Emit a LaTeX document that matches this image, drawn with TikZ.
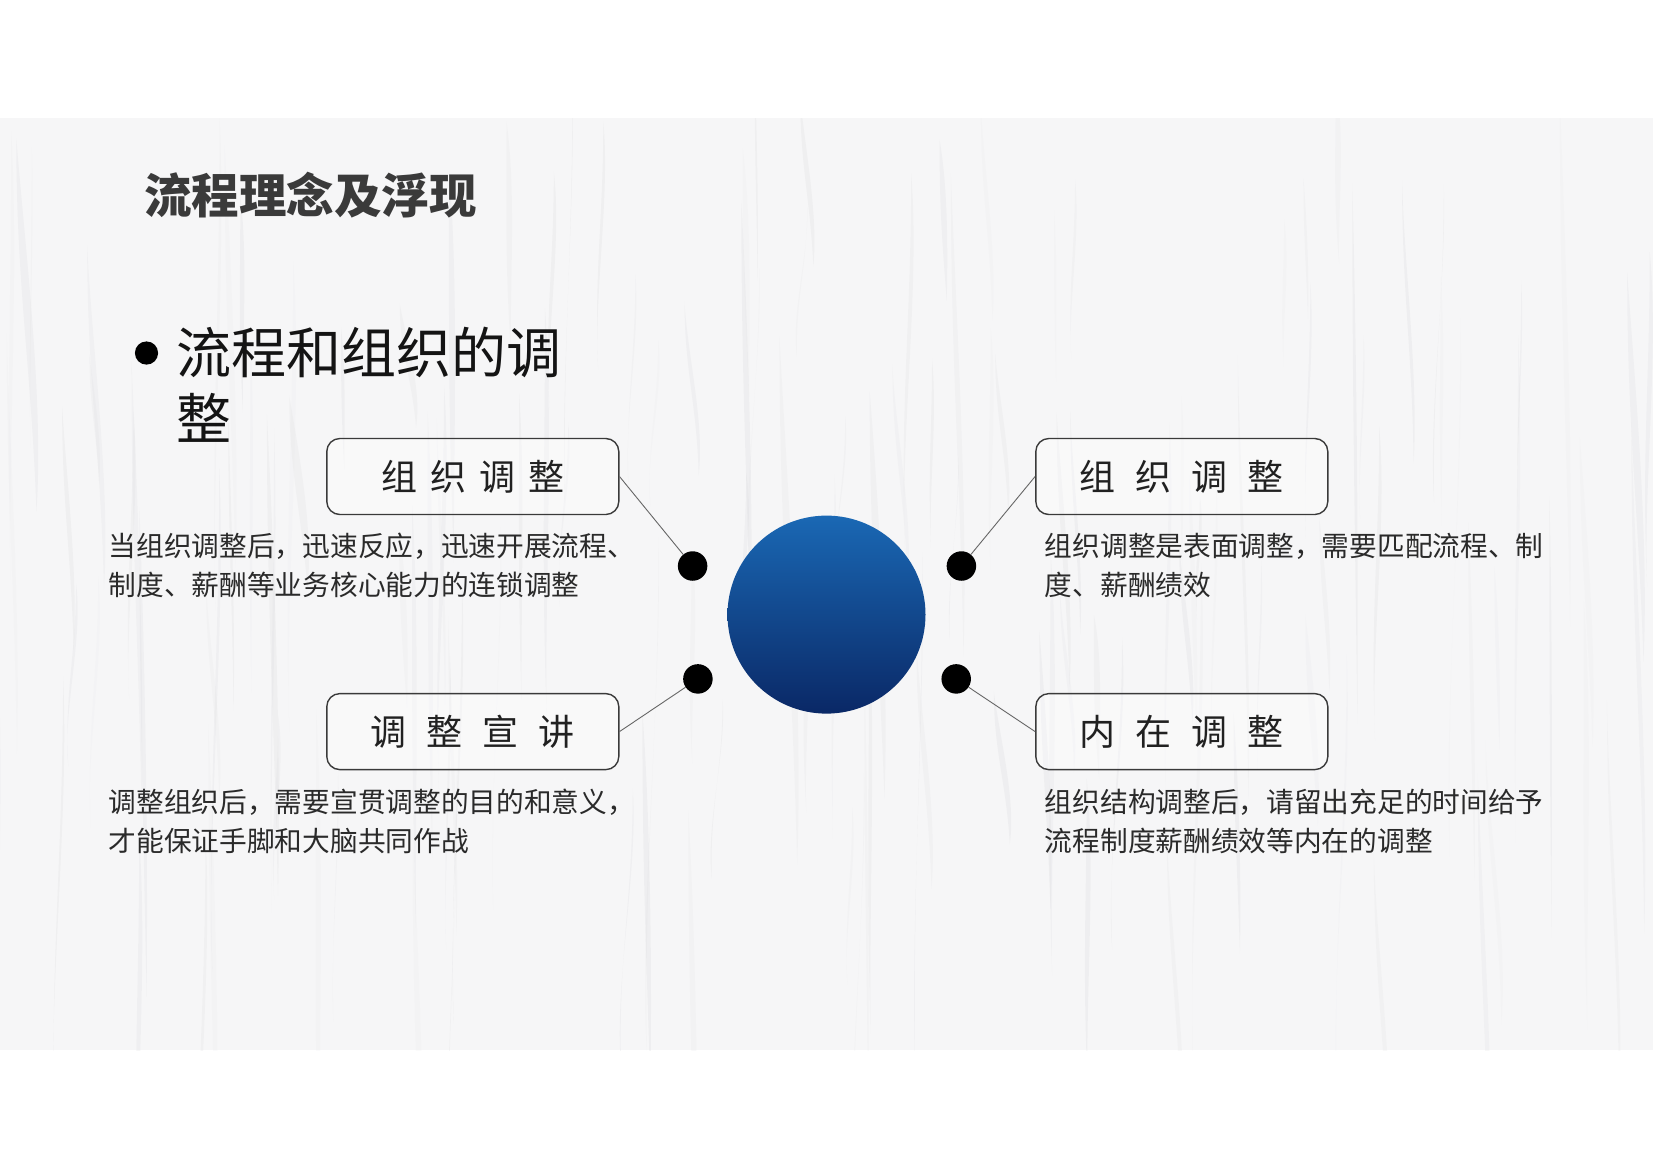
\documentclass[tikz,border=0pt]{standalone}
\usepackage{fontspec}
\setmainfont{Noto Sans CJK SC}
\definecolor{bggray}{HTML}{F6F6F7}
\definecolor{streak}{HTML}{D4D4D8}
\definecolor{titlegray}{HTML}{3A3A3A}
\definecolor{bodytext}{HTML}{2A2A2A}
\definecolor{boxline}{HTML}{3A3A3A}
\definecolor{ballTop}{HTML}{1A68B4}
\definecolor{ballBot}{HTML}{0A2866}
\tikzset{
  labelbox/.style={draw=boxline, line width=1.4pt, rounded corners=13pt, fill=white, fill opacity=0.35, text opacity=1,
    minimum width=292pt, minimum height=76pt, inner sep=0pt, text=black!87, font=\fontsize{36}{42}\selectfont},
  desc/.style={anchor=base west, align=left, inner sep=0pt, text=bodytext, font=\fontsize{27.7}{39}\selectfont},
  dotnode/.style={circle, fill=black, minimum size=29.5pt, inner sep=0pt},
  link/.style={draw=black!60, line width=0.9pt}
}
\newcommand{\spacedfour}[5]{#2\hspace{#1}#3\hspace{#1}#4\hspace{#1}#5}
\begin{document}
\begin{tikzpicture}[x=1pt,y=-1pt]
\useasboundingbox (0,0) rectangle (1653,1168);
\fill[white] (0,0) rectangle (1653,1168);
\fill[bggray] (0,118) rectangle (1653,1050);
% faint paper wrinkles
\pgfmathsetseed{7}
\begin{scope}
\clip (0,118) rectangle (1653,1050);
\foreach \i in {1,...,140} {
  \pgfmathsetmacro{\xa}{rnd*1653}
  \pgfmathsetmacro{\wa}{4+rnd*16}
  \pgfmathsetmacro{\ya}{60+rnd*800}
  \pgfmathsetmacro{\ha}{120+rnd*420}
  \pgfmathsetmacro{\da}{rnd*30-15}
  \pgfmathsetmacro{\oa}{0.06+rnd*0.16}
  \fill[streak, opacity=\oa] (\xa,\ya) .. controls ++(\wa*0.5,\ha*0.3) and ++(\da*0.5,-\ha*0.3) .. ++(\da+\wa*0.3,\ha) .. controls ++(-\wa*0.3,-\ha*0.4) and ++(0,\ha*0.4) .. cycle;
}
\end{scope}
% title
\node[anchor=base west, inner sep=0pt, text=titlegray, font=\fontsize{47.5}{57}\selectfont\bfseries] (title) at (144,213) {流程理念及浮现};
% bullet
\fill[black] (146.5,353) circle (11.6);
\node[anchor=base west, inner sep=0pt, align=left, text=black!92, font=\fontsize{55}{65.5}\selectfont] (sub) at (176,439) {流程和组织的调\\整};
% central ball
\shade[top color=ballTop, bottom color=ballBot] (826.5,614.6) circle (99);
\node[circle, minimum size=198pt, inner sep=0pt] (ball) at (826.5,614.6) {};
% boxes
\node[labelbox] (b1) at (472.8,476.5) {\spacedfour{13pt}{组}{织}{调}{整}};
\node[labelbox] (b2) at (1181.8,476.5) {\spacedfour{20pt}{组}{织}{调}{整}};
\node[labelbox] (b3) at (472.8,731.6) {\spacedfour{20pt}{调}{整}{宣}{讲}};
\node[labelbox] (b4) at (1181.8,731.6) {\spacedfour{20pt}{内}{在}{调}{整}};
% dots
\node[dotnode] (d1) at (692.6,566) {};
\node[dotnode] (d2) at (961.4,566) {};
\node[dotnode] (d3) at (697.9,678.9) {};
\node[dotnode] (d4) at (956.2,678.9) {};
% connectors
\draw[link] (b1.east) -- (d1);
\draw[link] (b2.west) -- (d2);
\draw[link] (b3.east) -- (d3);
\draw[link] (b4.west) -- (d4);
% descriptions
\node[desc] (t1) at (108.5,595.3) {当组织调整后，迅速反应，迅速开展流程、\\制度、薪酬等业务核心能力的连锁调整};
\node[desc] (t2) at (1044.7,595.3) {组织调整是表面调整，需要匹配流程、制\\度、薪酬绩效};
\node[desc] (t3) at (108.5,851.6) {调整组织后，需要宣贯调整的目的和意义，\\才能保证手脚和大脑共同作战};
\node[desc] (t4) at (1044.7,851.6) {组织结构调整后，请留出充足的时间给予\\流程制度薪酬绩效等内在的调整};
\end{tikzpicture}
\end{document}
